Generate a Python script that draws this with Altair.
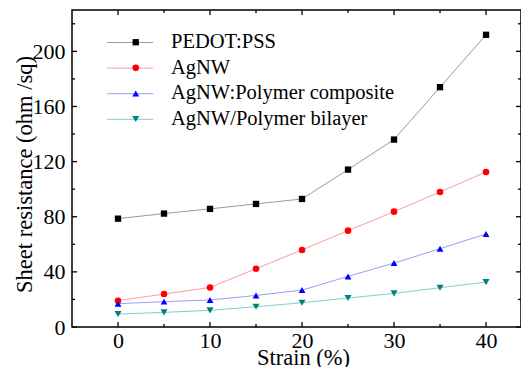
import altair as alt
import pandas as pd

strain = [0, 5, 10, 15, 20, 25, 30, 35, 40]
series_names = ["PEDOT:PSS", "AgNW", "AgNW:Polymer composite", "AgNW/Polymer bilayer"]
pedot = [78.6, 82.3, 85.7, 89.3, 92.9, 114.2, 136.0, 174.0, 212.0]
agnw = [19.1, 23.9, 28.7, 42.3, 55.9, 69.9, 83.7, 98.0, 112.5]
composite = [16.9, 18.4, 19.6, 22.9, 26.8, 36.7, 46.4, 56.8, 67.5]
bilayer = [9.4, 10.6, 12.1, 14.7, 17.6, 21.0, 24.4, 28.5, 32.6]

x_major = [0, 10, 20, 30, 40]
x_minor = [5, 15, 25, 35]
y_major = [0, 40, 80, 120, 160, 200]
y_minor = [20, 60, 100, 140, 180, 220]

line_colors = ["#9a9a9a", "#ff9c9c", "#9c9cff", "#8ccbc6"]
marker_colors = ["#000000", "#ff0000", "#0000ff", "#008080"]
shapes = ["square", "circle", "triangle-up", "triangle-down"]
sizes = [40, 50, 70, 70]

line_names = [n + " line" for n in series_names]

rows = []
for name, lname, vals in zip(series_names, line_names, [pedot, agnw, composite, bilayer]):
    for s, v in zip(strain, vals):
        rows.append({"strain": s, "R": v, "series": name, "line_series": lname})
df = pd.DataFrame(rows)

W, H = 449, 317
FONT = "Liberation Serif"

xscale = alt.Scale(domain=[-5, 43.8], nice=False, zero=False)
yscale = alt.Scale(domain=[0, 230], nice=False, zero=False)

x_enc = alt.X("strain:Q", scale=xscale,
              axis=alt.Axis(orient="bottom", values=x_major, title="Strain (%)", labelPadding=3,
                            titleX=231, titleY=37, titleBaseline="alphabetic"))
y_enc = alt.Y("R:Q", scale=yscale,
              axis=alt.Axis(orient="left", values=y_major, title="Sheet resistance (ohm /sq)",
                            labelPadding=7, titleX=-41, titleY=164, titleBaseline="alphabetic"))

lines = alt.Chart(df).mark_line(strokeWidth=1).encode(
    x=x_enc, y=y_enc,
    stroke=alt.Stroke("line_series:N", scale=alt.Scale(domain=line_names, range=line_colors),
                      legend=alt.Legend(title=None, orient="none", legendX=47.7, legendY=22,
                                        symbolType="M-2.3,0H2.3", symbolSize=400,
                                        symbolStrokeWidth=1, labelExpr="' '",
                                        rowPadding=4.6, labelLimit=0)),
)

points = alt.Chart(df).mark_point(filled=True, opacity=1, strokeWidth=0).encode(
    x=alt.X("strain:Q", scale=xscale, axis=None),
    y=alt.Y("R:Q", scale=yscale, axis=None),
    fill=alt.Fill("series:N", scale=alt.Scale(domain=series_names, range=marker_colors),
                  legend=alt.Legend(title=None, orient="none", legendX=53.5, legendY=22,
                                    labelOffset=25, rowPadding=4.6, symbolStrokeWidth=0,
                                    labelLimit=0)),
    shape=alt.Shape("series:N", scale=alt.Scale(domain=series_names, range=shapes)),
    size=alt.Size("series:N", scale=alt.Scale(domain=series_names, range=sizes)),
)


def xticks(vals, length, top):
    d = pd.DataFrame({"tx": vals})
    xe = alt.X("tx:Q", scale=xscale, axis=None)
    if top:
        return alt.Chart(d).mark_rule(color="black", strokeWidth=1.3).encode(
            x=xe, y=alt.value(0), y2=alt.value(length))
    return alt.Chart(d).mark_rule(color="black", strokeWidth=1.3).encode(
        x=xe, y=alt.value(H), y2=alt.value(H - length))


def yticks(vals, length, right):
    d = pd.DataFrame({"ty": vals})
    ye = alt.Y("ty:Q", scale=yscale, axis=None)
    if right:
        return alt.Chart(d).mark_rule(color="black", strokeWidth=1.3).encode(
            y=ye, x=alt.value(W), x2=alt.value(W - length))
    return alt.Chart(d).mark_rule(color="black", strokeWidth=1.3).encode(
        y=ye, x=alt.value(0), x2=alt.value(length))


tick_layers = [
    xticks(x_major, 5, False), xticks(x_minor, 3, False),
    xticks(x_major, 5, True), xticks(x_minor, 3, True),
    yticks(y_major, 5, False), yticks(y_minor, 3, False),
    yticks(y_major, 5, True), yticks(y_minor, 3, True),
]

chart = alt.layer(lines, points, *tick_layers).resolve_axis(
    x="independent", y="independent"
).properties(
    width=W, height=H,
    autosize=alt.AutoSizeParams(type="none"),
    padding={"left": 64, "top": 2, "right": 0, "bottom": 40},
).configure_view(stroke="black", strokeWidth=1.5).configure_axis(
    domain=False, grid=False, ticks=False, labelFlush=False,
    labelFont=FONT, labelFontSize=22, labelColor="black",
    titleFont=FONT, titleFontSize=22.5, titleFontWeight="normal", titleColor="black",
).configure_legend(
    labelFont=FONT, labelFontSize=20.5, labelColor="black",
)

chart.save("out.html", embed_options={"renderer": "svg", "actions": False})
